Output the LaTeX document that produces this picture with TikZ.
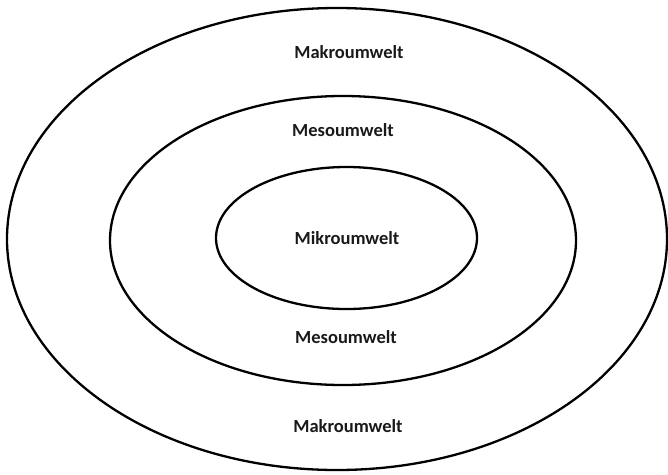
\documentclass[tikz,border=0pt]{standalone}
\usepackage{fontspec}
\setmainfont{Carlito}
\usetikzlibrary{shapes.geometric}
\tikzset{
  ring/.style={draw=black, line width=2.3pt, ellipse, inner sep=0pt},
  lbl/.style={font=\fontsize{18.5}{22}\selectfont\bfseries, text=black!90, inner sep=0pt}
}
\begin{document}
\begin{tikzpicture}[x=1pt, y=-1pt]
  \useasboundingbox (0,0) rectangle (668,474);
  % three nested environments
  \node[ring, minimum width=660pt, minimum height=462pt] (makro) at (337,239) {};
  \node[ring, minimum width=466pt, minimum height=289pt] (meso) at (343,240.5) {};
  \node[ring, minimum width=261pt, minimum height=142pt] (mikro) at (346.5,238) {};
  % labels
  \node[lbl] (makroTop) at (349,52) {Makroumwelt};
  \node[lbl] (mesoTop) at (343,130) {Mesoumwelt};
  \node[lbl] (mikroLbl) at (347,238) {Mikroumwelt};
  \node[lbl] (mesoBot) at (346,337) {Mesoumwelt};
  \node[lbl] (makroBot) at (348,426) {Makroumwelt};
\end{tikzpicture}
\end{document}
